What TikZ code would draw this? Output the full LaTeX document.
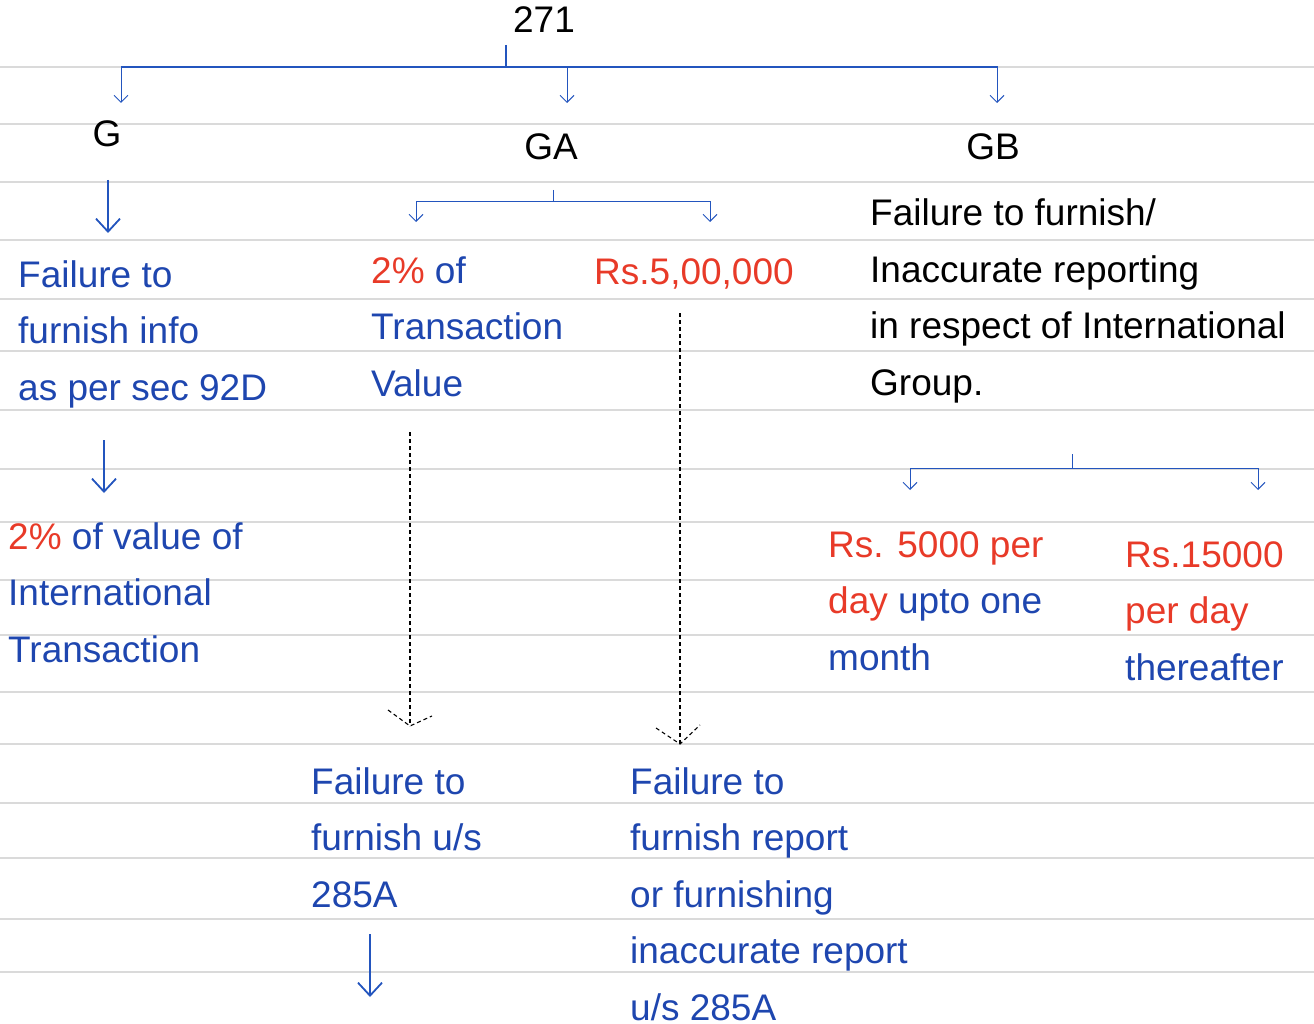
\documentclass[tikz,border=0pt]{standalone}
\usepackage{fontspec}
\setmainfont{Liberation Sans}
\usetikzlibrary{arrows.meta}
\usetikzlibrary{positioning}
\usetikzlibrary{calc}
\definecolor{inkblue}{RGB}{30,70,175}
\definecolor{inkred}{RGB}{232,58,40}
\definecolor{linkblue}{RGB}{35,85,190}
\definecolor{rulegray}{RGB}{218,218,218}

\begin{document}
\begin{tikzpicture}[x=1pt,y=-1pt,
  every node/.style={inner sep=0pt,anchor=base west,align=left,
    font=\fontsize{37}{56.5}\selectfont},
  title/.style={anchor=base,text=black},
  bluetext/.style={text=inkblue},
  redtext/.style={text=inkred},
  blacktext/.style={text=black},
  branch/.style={draw=linkblue,line width=1.6pt},
  thin branch/.style={draw=linkblue,line width=1pt},
  small tip/.style={-{Straight Barb[length=7pt,width=14pt]}},
  big tip/.style={draw=linkblue,line width=1.8pt,-{Straight Barb[length=13pt,width=24pt]}},
  dashlink/.style={draw=black,line width=1.1pt,dash pattern=on 4pt off 3pt}]
  \useasboundingbox (0,0) rectangle (1314,1024);
  % the ruled lines
  \foreach \y in {67,124,182,240,299,351,410,469,522,580,635,692,744,803,858,919,972}
    \draw[rulegray,line width=1.6pt] (0,\y) -- (1314,\y);
  % the headings
  \node[title] (sec) at (544,33) {271};
  \node[title] (g) at (107,147) {G};
  \node[title] (ga) at (551,160) {GA};
  \node[title] (gb) at (993,160) {GB};
  % the texts (placed by the baseline of their last line)
  \node[bluetext] (ginfo) at (18,400) {Failure to\\furnish info\\as per sec 92D};
  \node[bluetext] (gvalue) at (8,662) {{\color{inkred}2\%} of value of\\International\\Transaction};
  \node[bluetext] (gapct) at (371,396) {{\color{inkred}2\%} of\\Transaction\\Value};
  \node[redtext] (gars) at (594,284) {Rs.5,00,000};
  \node[bluetext] (gafail) at (311,907) {Failure to\\furnish u/s\\285A};
  \node[bluetext] (gareport) at (630,1020) {Failure to\\furnish report\\or furnishing\\inaccurate report\\u/s 285A};
  \node[blacktext] (gbfail) at (870,395) {Failure to furnish/\\Inaccurate reporting\\in respect of International\\Group.};
  \node[redtext] (gbmonth) at (828,670) {Rs. 5000 per\\day {\color{inkblue}upto one}\\{\color{inkblue}month}};
  \node[redtext] (gbafter) at (1125,680) {Rs.15000\\per day\\{\color{inkblue}thereafter}};
  % the joints
  \coordinate (sec out) at (506,45);
  \coordinate (sec bar) at (506,67);
  \coordinate (g in) at (121,103);
  \coordinate (ga in) at (567,103);
  \coordinate (gb in) at (997,103);
  \coordinate (ga out) at (553,190);
  \coordinate (ga bar) at (553,202);
  \coordinate (pct in) at (416,222);
  \coordinate (rs in) at (710,222);
  \coordinate (gb out) at (1072,454);
  \coordinate (gb bar) at (1072,468);
  \coordinate (month in) at (910,490);
  \coordinate (after in) at (1258,490);
  \coordinate (g top) at (108,180);
  \coordinate (g tip) at (108,233);
  \coordinate (info top) at (104,440);
  \coordinate (info tip) at (104,493);
  \coordinate (pct top) at (410,432);
  \coordinate (pct tip) at (410,726);
  \coordinate (rs top) at (680,313);
  \coordinate (rs tip) at (680,744);
  \coordinate (fail top) at (370,934);
  \coordinate (fail tip) at (370,997);
  % the edges
  \draw[branch] (sec out) -- (sec bar);
  \draw[branch] (g in |- sec bar) -- (gb in |- sec bar);
  \draw[thin branch,small tip] (sec bar) -| (g in);
  \draw[thin branch,small tip] (sec bar) -| (ga in);
  \draw[thin branch,small tip] (sec bar) -| (gb in);
  \draw[thin branch] (ga out) -- (ga bar);
  \draw[thin branch,small tip] (ga bar) -| (pct in);
  \draw[thin branch,small tip] (ga bar) -| (rs in);
  \draw[thin branch] (gb out) -- (gb bar);
  \draw[thin branch,small tip] (gb bar) -| (month in);
  \draw[thin branch,small tip] (gb bar) -| (after in);
  \draw[big tip] (g top) -- (g tip);
  \draw[big tip] (info top) -- (info tip);
  \draw[big tip] (fail top) -- (fail tip);
  \draw[dashlink] (pct top) -- (pct tip);
  \draw[dashlink] ($(pct tip)+(-22,-16)$) -- (pct tip) -- ($(pct tip)+(22,-10)$);
  \draw[dashlink] (rs top) -- (rs tip);
  \draw[dashlink] ($(rs tip)+(-24,-16)$) -- (rs tip) -- ($(rs tip)+(20,-19)$);
\end{tikzpicture}
\end{document}
